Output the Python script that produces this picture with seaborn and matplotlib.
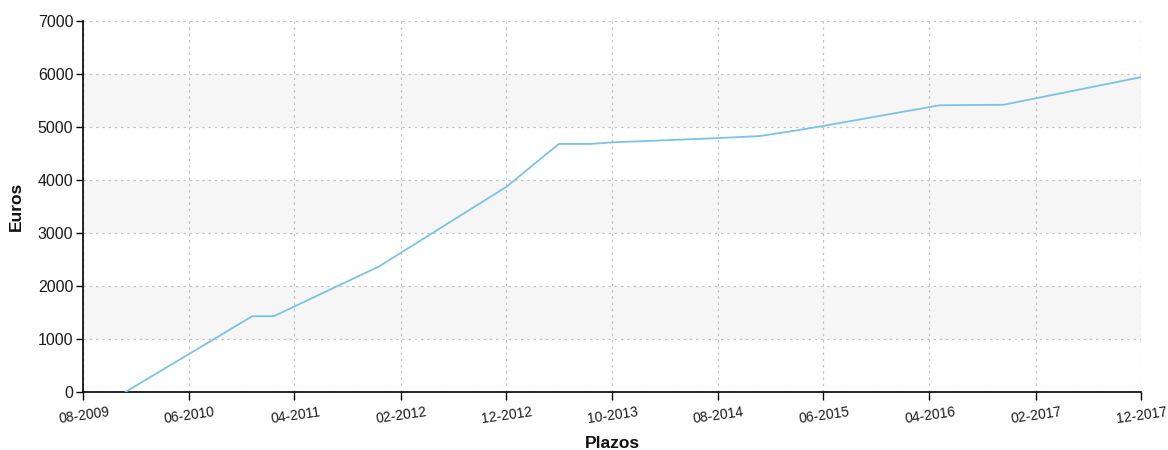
import matplotlib
matplotlib.use("Agg")
import matplotlib.pyplot as plt
import matplotlib.dates as mdates
import seaborn as sns
import pandas as pd

# Data
fechas = ["2009-12", "2010-12", "2011-02", "2011-12", "2012-12",
          "2013-05", "2013-08", "2013-10", "2014-08", "2014-12", "2015-03",
          "2015-06", "2016-01", "2016-05", "2016-11", "2017-12"]
euros = [0, 1430, 1430, 2370, 3870,
         4680, 4680, 4710, 4790, 4830, 4920,
         5020, 5270, 5410, 5420, 5940]

tick_labels = ["08-2009", "06-2010", "04-2011", "02-2012", "12-2012", "10-2013",
               "08-2014", "06-2015", "04-2016", "02-2017", "12-2017"]

sns.set_theme(style="white")
plt.rcParams['font.family'] = ['Liberation Sans', 'DejaVu Sans']

df = pd.DataFrame({"Plazos": pd.to_datetime(fechas), "Euros": euros})

fig = plt.figure(figsize=(11.68, 4.5), dpi=100)
ax = fig.add_axes([83/1168, 1-392/450, (1141-83)/1168, (392-21)/450])

for lo in (1000, 3000, 5000):
    ax.axhspan(lo, lo + 1000, color="#f6f6f6", zorder=0, lw=0)

sns.lineplot(data=df, x="Plazos", y="Euros", ax=ax, color="#79c3e8", linewidth=1.3, zorder=3)

ticks = pd.to_datetime(["-".join(t.split("-")[::-1]) for t in tick_labels])
ax.set_xticks(mdates.date2num(ticks))
ax.set_xticklabels(tick_labels, rotation=8, ha="center", rotation_mode="anchor", fontsize=10, color="#1a1a1a")
ax.set_xlim(mdates.date2num(ticks[0]), mdates.date2num(ticks[-1]))
ax.set_ylim(0, 7000)
ax.set_yticks(range(0, 7001, 1000))
ax.tick_params(axis="y", labelsize=11.5, labelcolor="#1a1a1a", length=5, width=1, color="black", direction="out", left=True, pad=2)
ax.tick_params(axis="x", length=6, width=1, color="black", direction="out", bottom=True, pad=6)

ax.grid(True, color="#c4c4c4", linestyle=(0, (2, 3)), linewidth=0.9, zorder=1)
ax.set_axisbelow(True)
for s in ("top", "right"):
    ax.spines[s].set_visible(False)
for s in ("left", "bottom"):
    ax.spines[s].set_color("black")
    ax.spines[s].set_linewidth(1.2)

ax.set_xlabel("Plazos", fontsize=12.5, fontweight="bold", labelpad=7, color="#111111")
ax.set_ylabel("Euros", fontsize=12.5, fontweight="bold", labelpad=10, color="#111111")

fig.savefig("out.png", dpi=100)
